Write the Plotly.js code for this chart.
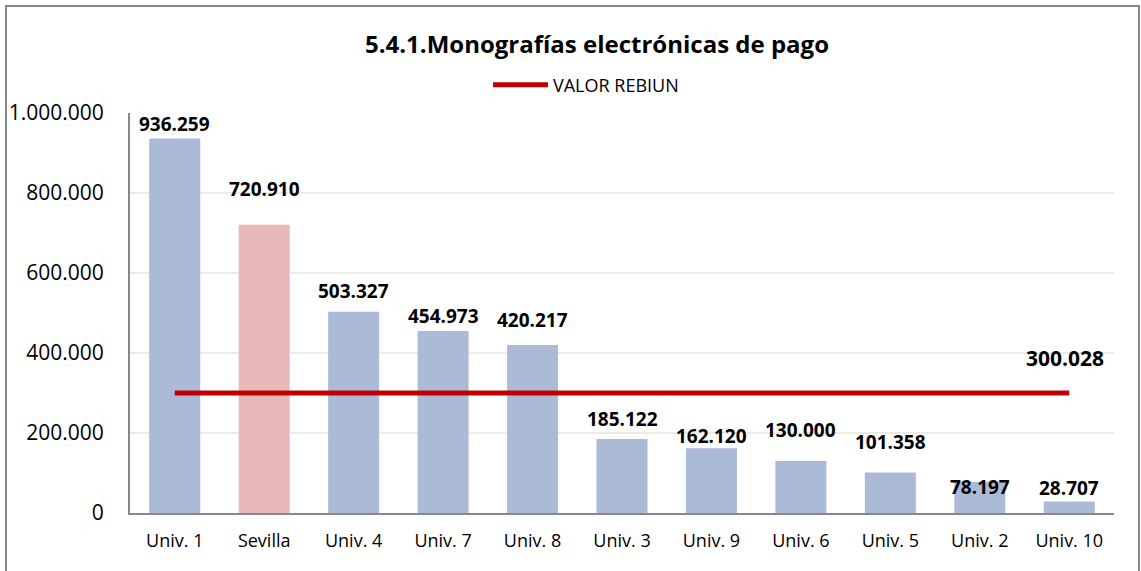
<!DOCTYPE html>
<html><head><meta charset="utf-8">
<script src="https://cdn.plot.ly/plotly-3.0.1.min.js"></script>
<style>html,body{margin:0;padding:0;background:#fff;}#chart{width:1141px;height:571px;}</style>
</head><body><div id="chart"></div>
<script>
const categories = ["Univ. 1","Sevilla","Univ. 4","Univ. 7","Univ. 8","Univ. 3","Univ. 9","Univ. 6","Univ. 5","Univ. 2","Univ. 10"];
const values = [936259, 720910, 503327, 454973, 420217, 185122, 162120, 130000, 101358, 78197, 28707];
const rebiunValue = 300028;
const rebiun = categories.map(() => rebiunValue);
const highlight = "Sevilla";
const yTicks = [0, 200000, 400000, 600000, 800000, 1000000];

// pixel offsets of the data labels above the bar tops (as placed in the original)
const labelShift = [14, 35, 20, 14, 24, 19, 11, 30, 29, -6, 13];

const FONT = "'Open Sans', Lato, sans-serif";
const barColors = categories.map(c => c === highlight ? "#E6B9B8" : "#ABBAD7");
const fmt = v => v.toLocaleString("de-DE");

const bars = {
  type: "bar", x: categories, y: values,
  marker: {color: barColors, line: {width: 0}},
  width: 0.57, showlegend: false, hoverinfo: "x+y"
};
const line = {
  type: "scatter", mode: "lines", x: categories, y: rebiun,
  name: "VALOR REBIUN",
  line: {color: "#C00000", width: 5},
  showlegend: true
};

const annotations = categories.map((c, i) => ({
  x: c, y: values[i], xref: "x", yref: "y", text: "<b>" + fmt(values[i]) + "</b>",
  showarrow: false, yanchor: "middle", yshift: labelShift[i] + 1,
  font: {family: FONT, size: 19, color: "#000"}
}));
annotations.push({
  x: categories[categories.length - 1], y: rebiunValue, xref: "x", yref: "y",
  text: "<b>" + fmt(rebiunValue) + "</b>", showarrow: false, yanchor: "middle",
  yshift: 35, xshift: -4, font: {family: FONT, size: 21, color: "#000"}
});

const layout = {
  width: 1141, height: 571,
  margin: {l: 130, r: 27, t: 113, b: 58},
  paper_bgcolor: "#fff", plot_bgcolor: "#fff",
  separators: ",.",
  font: {family: FONT, color: "#000"},
  title: {text: "<b>5.4.1.Monografías electrónicas de pago</b>", font: {family: FONT, size: 24, color: "#000"},
          xref: "container", x: 597/1141, xanchor: "center", yref: "container", y: 1 - 45/571, yanchor: "middle"},
  legend: {orientation: "h", xref: "container", yref: "container", x: 586/1141, xanchor: "center", y: 1 - 85/571, yanchor: "middle",
           font: {family: FONT, size: 18, color: "#000"}, itemwidth: 55, bgcolor: "rgba(0,0,0,0)"},
  xaxis: {type: "category", showgrid: false, showline: true, linecolor: "#888", linewidth: 2,
          ticks: "", tickfont: {family: FONT, size: 18, color: "#000"}, ticklabelstandoff: 10},
  yaxis: {range: [0, 1000000], tickvals: yTicks, tickformat: ",d", showgrid: true, gridcolor: "#EEECE1", gridwidth: 2,
          showline: true, linecolor: "#888", linewidth: 2, ticks: "", zeroline: false,
          tickfont: {family: FONT, size: 21, color: "#000"}, ticklabelstandoff: 20},
  annotations: annotations,
  shapes: [{type: "rect", xref: "paper", yref: "paper",
            x0: (6 - 130) / 984, x1: (1139 - 130) / 984, y0: -58 / 400 - 0.01, y1: 1 + 107 / 400,
            line: {color: "#888", width: 2}, fillcolor: "rgba(0,0,0,0)", layer: "below"}]
};

Plotly.newPlot("chart", [bars, line], layout, {displayModeBar: false, staticPlot: true});
</script></body></html>
